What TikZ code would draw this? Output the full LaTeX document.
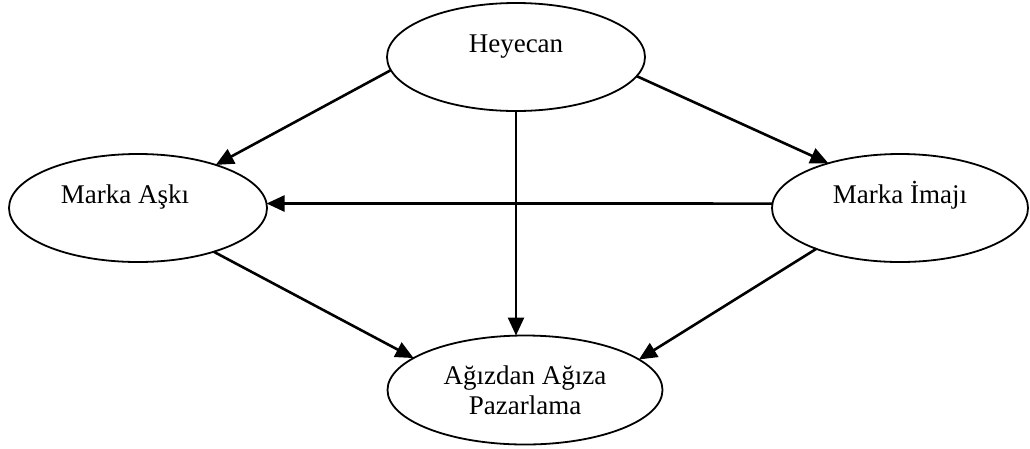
\documentclass[tikz,border=0pt]{standalone}
\usepackage{fontspec}
\setmainfont{Liberation Serif}
\usetikzlibrary{shapes.geometric,arrows.meta}
\begin{document}
\begin{tikzpicture}[x=1pt,y=-1pt,
  oval/.style={ellipse, draw, line width=1.8pt, inner sep=0pt, outer sep=0pt,
    font=\fontsize{27}{30}\selectfont},
  raised/.style={text height=18pt, text depth=28pt},
  arr/.style={line width=2.6pt, -{Triangle[length=18pt,width=16pt]}}]
\useasboundingbox (0,0) rectangle (1030,448);

% concepts
\node[oval, raised, minimum width=258pt, minimum height=108pt] (hey) at (516,57) {Heyecan};
\node[oval, raised, minimum width=258pt, minimum height=108pt] (ask) at (138,208) {Marka Aşkı\kern26pt};
\node[oval, raised, minimum width=256pt, minimum height=108pt] (imaj) at (900,208) {Marka İmajı};
\node[oval, align=center, minimum width=275pt, minimum height=109pt] (agiz) at (525,390) {Ağızdan Ağıza\\Pazarlama};

% relations
\draw[arr] (hey.186) -- (ask.29);
\draw[arr] (hey.-9.4) -- (imaj.148);
\draw[arr] (hey.south) -- (hey.south |- agiz.north);
\draw[arr] (imaj.178) -- (ask.2);
\draw[arr] (ask.330.5) -- (agiz.164);
\draw[arr] (imaj.206) -- (agiz.15);
\end{tikzpicture}
\end{document}
